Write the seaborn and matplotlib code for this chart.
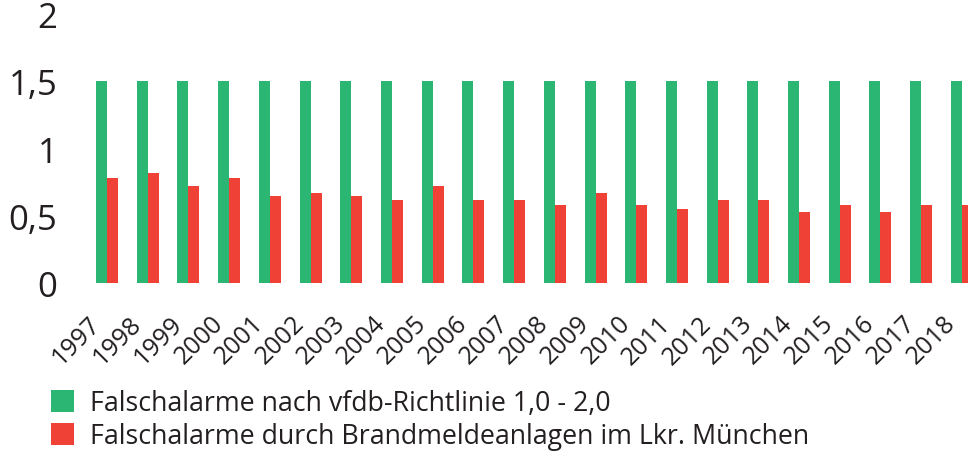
import matplotlib
matplotlib.use("Agg")
import matplotlib.pyplot as plt
import matplotlib.ticker as mticker
import matplotlib.transforms as mtrans
import pandas as pd
import seaborn as sns

years = [str(y) for y in range(1997, 2019)]
richtlinie = [1.5] * 22
brandmelde = [0.78, 0.82, 0.72, 0.78, 0.65, 0.67, 0.65, 0.62, 0.72, 0.62, 0.62,
              0.58, 0.67, 0.58, 0.55, 0.62, 0.62, 0.53, 0.58, 0.53, 0.58, 0.58]
series_names = ["Falschalarme nach vfdb-Richtlinie 1,0 - 2,0",
                "Falschalarme durch Brandmeldeanlagen im Lkr. München"]
colors = ["#2BB673", "#EF4136"]
yticks = [0, 0.5, 1, 1.5, 2]

df = pd.DataFrame({
    "Jahr": years * 2,
    "Wert": richtlinie + brandmelde,
    "Reihe": [series_names[0]] * len(years) + [series_names[1]] * len(years),
})

sns.set_style("white")
plt.rcParams["font.family"] = ["Open Sans", "DejaVu Sans"]
text_color = "#231F20"

W, H = 968, 452
fig = plt.figure(figsize=(W / 100, H / 100), dpi=100)
ax = fig.add_axes([60 / W, (H - 284.3) / H, (W - 60) / W, 269.4 / H])

sns.barplot(data=df, x="Jahr", y="Wert", hue="Reihe", palette=colors,
            width=0.54, saturation=1, linewidth=0, ax=ax, legend=True)

ax.set_xlim(-1.155, 21.15)
ax.set_ylim(0, 2)
ax.set_xlabel("")
ax.set_ylabel("")
for s in ax.spines.values():
    s.set_visible(False)

ax.set_yticks(yticks)
ax.yaxis.set_major_formatter(mticker.FuncFormatter(
    lambda v, p: f"{v:g}".replace(".", ",")))
ax.tick_params(axis="y", length=0, pad=2, labelsize=25, labelcolor=text_color)
ax.tick_params(axis="x", length=0, pad=26, labelsize=18, labelcolor=text_color)
shift = mtrans.ScaledTranslation(-10 / 100, 0, fig.dpi_scale_trans)
for lab in ax.get_xticklabels():
    lab.set_rotation(45)
    lab.set_ha("right")
    lab.set_va("center")
    lab.set_rotation_mode("anchor")
    lab.set_transform(lab.get_transform() + shift)

handles, labels = ax.get_legend_handles_labels()
ax.get_legend().remove()
leg = fig.legend(handles, labels, loc="upper left",
                 bbox_to_anchor=(51 / W, (H - 390) / H), frameon=False,
                 fontsize=19.3, handlelength=0.86, handleheight=0.86,
                 handletextpad=0.6, labelspacing=0.2, borderpad=0,
                 borderaxespad=0)
for t in leg.get_texts():
    t.set_color(text_color)

fig.savefig("out.png", dpi=100)
